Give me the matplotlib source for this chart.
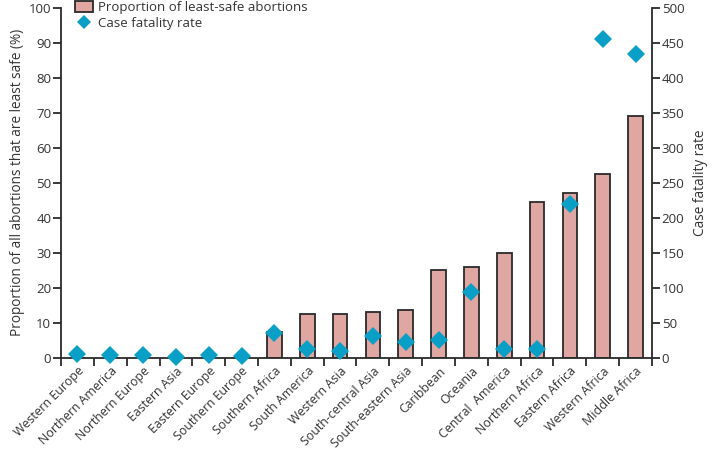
import matplotlib
matplotlib.use("Agg")
import matplotlib.pyplot as plt
import numpy as np
from matplotlib.lines import Line2D
from matplotlib.patches import Patch

regions = [
    "Western Europe", "Northern America", "Northern Europe", "Eastern Asia",
    "Eastern Europe", "Southern Europe", "Southern Africa", "South America",
    "Western Asia", "South-central Asia", "South-eastern Asia", "Caribbean",
    "Oceania", "Central  America", "Northern Africa", "Eastern Africa",
    "Western Africa", "Middle Africa",
]
least_safe_pct = [0, 0, 0, 0, 0, 0, 7.3, 12.4, 12.5, 13.1, 13.6, 25.1,
                  26.0, 29.8, 44.6, 47.2, 52.4, 69.1]
case_fatality = [5, 4, 4, 1.5, 4, 3, 35, 12, 10, 31, 22, 25,
                 94, 12, 13, 220, 455, 434]

BAR_COLOR = "#e0a6a1"
EDGE_COLOR = "#2a2a2a"
DIAMOND_COLOR = "#0a9fc6"
TEXT_COLOR = "#333333"
FS = 9.5

plt.rcParams["font.family"] = ["Open Sans", "DejaVu Sans"]
plt.rcParams["text.color"] = TEXT_COLOR
plt.rcParams["axes.labelcolor"] = TEXT_COLOR
plt.rcParams["xtick.color"] = TEXT_COLOR
plt.rcParams["ytick.color"] = TEXT_COLOR

fig = plt.figure(figsize=(7.12, 4.51), dpi=100)
ax = fig.add_axes([0.0857, 0.2069, 0.83, 0.7754])
ax2 = ax.twinx()

x = np.arange(len(regions))
ax.bar(x, least_safe_pct, width=0.45, color=BAR_COLOR, edgecolor=EDGE_COLOR,
       linewidth=1.3, zorder=2)
ax2.plot(x, case_fatality, linestyle="none", marker="D", markersize=9,
         color=DIAMOND_COLOR, markeredgewidth=0, zorder=3, clip_on=False)

ax.set_xlim(-0.5, len(regions) - 0.5)
ax.set_ylim(0, 100)
ax2.set_ylim(0, 500)
ax.set_yticks(np.arange(0, 101, 10))
ax2.set_yticks(np.arange(0, 501, 50))

# category labels at centres, tick marks at boundaries
ax.set_xticks(x)
ax.set_xticklabels(regions, rotation=45, ha="right", rotation_mode="anchor",
                   fontsize=8.9)
ax.tick_params(axis="x", which="major", length=0, pad=5)
ax.set_xticks(np.arange(-0.5, len(regions), 1.0), minor=True)
ax.tick_params(axis="x", which="minor", length=6, width=1.3, color=EDGE_COLOR)

ax.tick_params(axis="y", length=6, width=1.3, color=EDGE_COLOR, labelsize=FS, pad=1)
ax2.tick_params(axis="y", length=6, width=1.3, color=EDGE_COLOR, labelsize=FS, pad=1)

for a in (ax, ax2):
    a.spines["top"].set_visible(False)
    for s in ("left", "right", "bottom"):
        a.spines[s].set_linewidth(1.3)
        a.spines[s].set_color(EDGE_COLOR)
ax.spines["right"].set_visible(False)
ax2.spines["left"].set_visible(False)
ax2.spines["bottom"].set_visible(False)

ax.set_ylabel("Proportion of all abortions that are least safe (%)", fontsize=9.8,
              labelpad=3)
ax2.set_ylabel("Case fatality rate", fontsize=9.8, labelpad=6)

handles = [
    Patch(facecolor=BAR_COLOR, edgecolor=EDGE_COLOR, linewidth=1.3,
          label="Proportion of least-safe abortions"),
    Line2D([], [], linestyle="none", marker="D", markersize=7.5,
           color=DIAMOND_COLOR, markeredgewidth=0, label="Case fatality rate"),
]
fig.legend(handles=handles, loc="upper left", bbox_to_anchor=(0.088, 1.025),
           frameon=False, fontsize=9.5, handlelength=1.4, handleheight=0.9,
           handletextpad=0.4, labelspacing=0.25)

fig.savefig("out.png", dpi=100)
